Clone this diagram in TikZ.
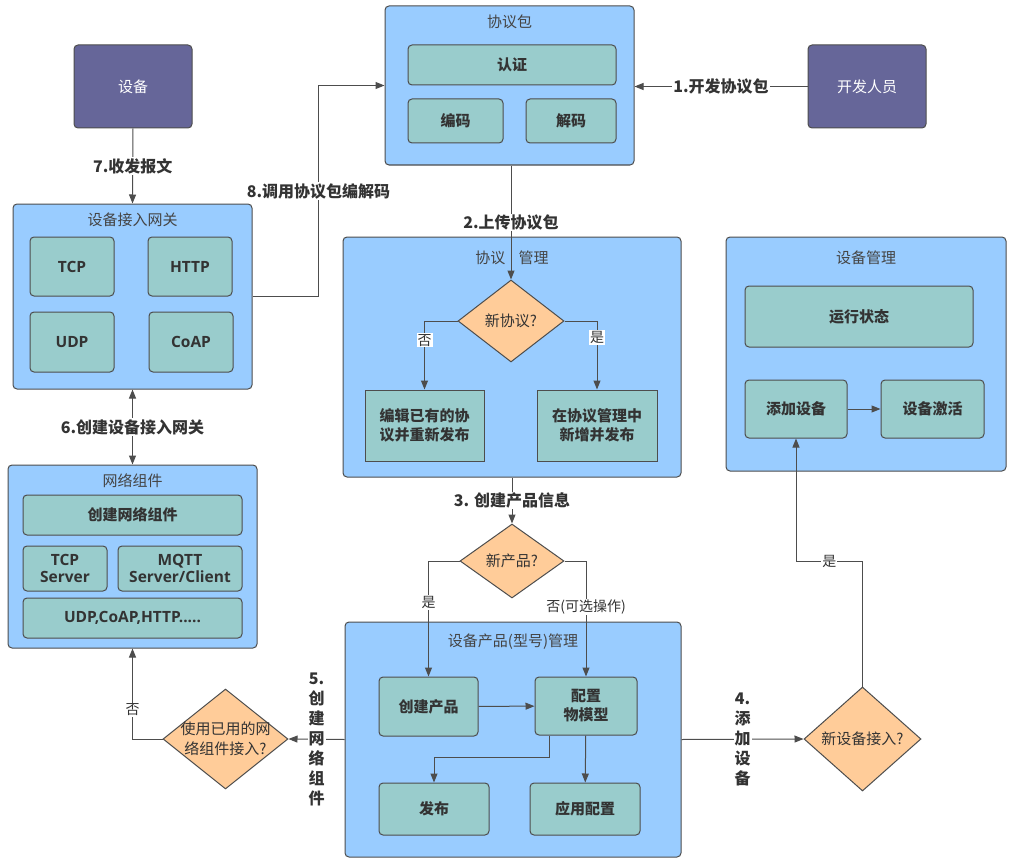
\documentclass[tikz,border=0pt]{standalone}
\usepackage{fontspec}
\setmainfont{Noto Sans CJK SC}
\newfontfamily\latinfont{Open Sans}
\usepackage{tikz}
\usetikzlibrary{arrows.meta,shapes.geometric}

\definecolor{boxblue}{HTML}{99CCFF}
\definecolor{boxteal}{HTML}{99CCCC}
\definecolor{boxpurple}{HTML}{666699}
\definecolor{boxorange}{HTML}{FFCC99}
\definecolor{edgegray}{HTML}{4D4D4D}
\definecolor{textgray}{HTML}{333333}
\definecolor{titlegray}{HTML}{444444}

\begin{document}
\begin{tikzpicture}
			[x=1pt,y=-1pt,
			every node/.style={font=\fontsize{15}{19}\selectfont,text=textgray},
			group/.style={draw=edgegray,fill=boxblue,rounded corners=4pt,line width=1pt},
			item/.style={draw=edgegray,fill=boxteal,rounded corners=4pt,line width=1pt,align=center,font=\fontsize{15}{19}\selectfont\bfseries},
			flat/.style={item,rounded corners=0pt},
			latin/.style={font=\latinfont\fontsize{15.5}{17}\selectfont\bfseries},
			actor/.style={draw=edgegray,fill=boxpurple,rounded corners=4pt,line width=1pt,text=white},
			choice/.style={diamond,draw=edgegray,fill=boxorange,line width=1pt,inner sep=0pt},
			asktext/.style={align=center,inner sep=0pt,font=\fontsize{15}{20}\selectfont},
			title/.style={text=titlegray},
			flow/.style={draw=edgegray,line width=1pt,-{Triangle[length=9pt,width=7pt]}},
			tag/.style={fill=white,inner sep=1pt,align=center,font=\fontsize{16}{20}\selectfont\bfseries},
			note/.style={fill=white,inner sep=1pt,font=\fontsize{14}{16}\selectfont}]
				\useasboundingbox (0,0) rectangle (1020,864);
				% actors
				\node[actor,minimum width=118pt,minimum height=83pt] (dev) at (133,86.5) {设备};
				\node[actor,minimum width=118pt,minimum height=83pt] (coder) at (867,86.5) {开发人员};
				% protocol package
				\node[group,minimum width=249pt,minimum height=159pt] (pkg) at (509.5,85.5) {};
				\node[title] (pkgtitle) at (509.5,22) {协议包};
				\node[item,minimum width=208pt,minimum height=40pt] (auth) at (512,65) {认证};
				\node[item,minimum width=95pt,minimum height=44pt] (enc) at (455.5,121) {编码};
				\node[item,minimum width=90pt,minimum height=44pt] (dec) at (571,121) {解码};
				% gateway
				\node[group,minimum width=239pt,minimum height=185pt] (gw) at (132.5,296.5) {};
				\node[title] (gwtitle) at (132.5,220) {设备接入网关};
				\node[item,latin,minimum width=84pt,minimum height=59pt] (tcp) at (72,266.5) {TCP};
				\node[item,latin,minimum width=84pt,minimum height=59pt] (http) at (190,266.5) {HTTP};
				\node[item,latin,minimum width=84pt,minimum height=60pt] (udp) at (72,342) {UDP};
				\node[item,latin,minimum width=84pt,minimum height=60pt] (coap) at (191,342) {CoAP};
				% network components
				\node[group,minimum width=249pt,minimum height=183pt] (net) at (132.5,556.5) {};
				\node[title] (nettitle) at (132.5,481) {网络组件};
				\node[item,minimum width=219pt,minimum height=40pt] (mknet) at (132.5,515) {创建网络组件};
				\node[item,latin,minimum width=84pt,minimum height=45pt,inner sep=1pt] (tcps) at (65,568.5) {TCP\\Server};
				\node[item,latin,minimum width=124pt,minimum height=45pt,inner sep=1pt] (mqtt) at (180,568.5) {MQTT\\Server/Client};
				\node[item,latin,minimum width=219pt,minimum height=40pt] (misc) at (132.5,618) {UDP,CoAP,HTTP.....};
				% protocol management
				\node[group,minimum width=338pt,minimum height=240pt] (proto) at (512,357) {};
				\node[title] (prototitle) at (512,258) {协议\hspace{0.9em}管理};
				\node[choice,minimum width=106pt,minimum height=82pt,label={[asktext]center:新协议?}] (newproto) at (511,321) {};
				\node[flat,minimum width=119pt,minimum height=71pt] (edit) at (424.5,425.5) {编辑已有的协\\议并重新发布};
				\node[flat,minimum width=120pt,minimum height=71pt] (addproto) at (597,425.5) {在协议管理中\\新增并发布};
				% product management
				\node[choice,minimum width=104pt,minimum height=74pt,label={[asktext]center:新产品?}] (newprod) at (512,561) {};
				\node[group,minimum width=336pt,minimum height=235pt] (prod) at (513,739.5) {};
				\node[title] (prodtitle) at (513,642) {设备产品(型号)管理};
				\node[item,minimum width=99pt,minimum height=59pt] (mkprod) at (428.5,706.5) {创建产品};
				\node[item,minimum width=102pt,minimum height=58pt] (model) at (586,706) {配置\\物模型};
				\node[item,minimum width=110pt,minimum height=52pt] (pub) at (434,809) {发布};
				\node[item,minimum width=110pt,minimum height=52pt] (apply) at (585,809) {应用配置};
				% device management
				\node[group,minimum width=280pt,minimum height=234pt] (mgr) at (866,354) {};
				\node[title] (mgrtitle) at (866,258) {设备管理};
				\node[item,minimum width=228pt,minimum height=61pt] (status) at (859,316.5) {运行状态};
				\node[item,minimum width=102pt,minimum height=58pt] (adddev) at (796,409) {添加设备};
				\node[item,minimum width=103pt,minimum height=58pt] (activate) at (932.5,409) {设备激活};
				% decisions
				\node[choice,minimum width=117pt,minimum height=104pt,label={[asktext]center:新设备接入?}] (newdev) at (862.5,739) {};
				\node[choice,minimum width=125pt,minimum height=100pt,label={[asktext]center:使用已用的网\\络组件接入?}] (reuse) at (225.5,739) {};
				% connectors
				\draw[flow] (coder.west) -- node[tag]{1.开发协议包} (coder.west -| pkg.east);
				\draw[flow] (pkg.south -| newproto.north) -- node[tag]{2.上传协议包} (newproto.north);
				\draw[flow] (newproto.west) -| node[note,pos=0.64]{否} (edit.north);
				\draw[flow] (newproto.east) -| node[note,pos=0.62]{是} (addproto.north);
				\draw[flow] (proto.south -| newprod.north) -- node[tag]{3. 创建产品信息} (newprod.north);
				\draw[flow] (newprod.west) -| node[note,pos=0.68]{是} (mkprod.north);
				\draw[flow] (newprod.east) -| node[note,pos=0.70]{否(可选操作)} (model.north);
				\draw[flow] ([xshift=-37pt]model.south) -- ++(0,22) -| (pub.north);
				\foreach \from/\to in {mkprod/model,model/apply,adddev/activate}
				\draw[flow] (\from) -- (\to);
				\draw[flow] (prod.east) -- node[tag]{4.\\添\\加\\设\\备} (newdev.west);
				\draw[flow] (newdev.north) -- ++(0,-125) -| node[note,pos=0.25]{是} (adddev.south);
				\draw[flow] (prod.west) -- node[tag]{5.\\创\\建\\网\\络\\组\\件} (reuse.east);
				\draw[flow] (reuse.west) -| node[note,pos=0.66]{否} (net.south);
				\draw[flow,{Triangle[length=9pt,width=7pt]}-{Triangle[length=9pt,width=7pt]}] (gw.south) -- node[tag]{6.创建设备接入网关} (net.north);
				\draw[flow] (dev.south) -- node[tag]{7.收发报文} (gw.north);
				\draw[flow] (gw.east) -- ++(66,0) |- node[tag,pos=0.25]{8.调用协议包编解码} (pkg.west);
			\end{tikzpicture}
\end{document}
